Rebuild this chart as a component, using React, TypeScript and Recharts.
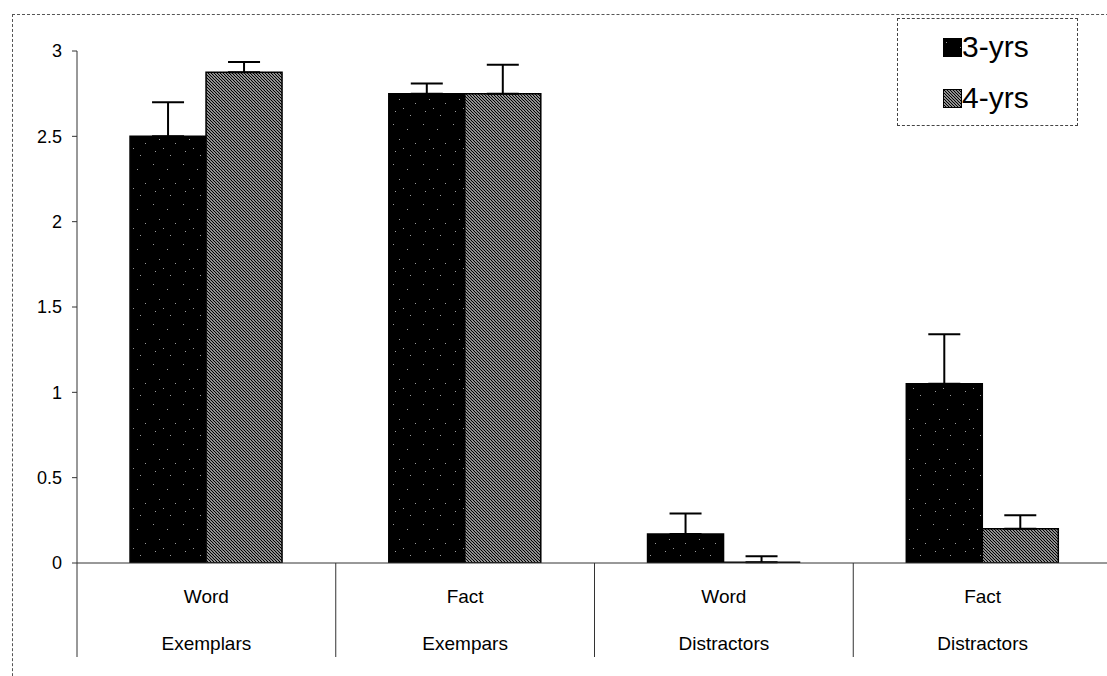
import { BarChart, Bar, XAxis, YAxis, ErrorBar, Legend } from "recharts";

const topLabels = ["Word", "Fact", "Word", "Fact"];
const bottomLabels = ["Exemplars", "Exempars", "Distractors", "Distractors"];
const threeYrs = [2.5, 2.75, 0.17, 1.05];
// word distractors for 4-yrs sits on the baseline (tiny value so the bar and its error bar still render)
const fourYrs = [2.875, 2.75, 0.005, 0.2];
const threeErr = [0.2, 0.06, 0.12, 0.29];
const fourErr = [0.06, 0.17, 0.035, 0.08];
const yTicks = [0, 0.5, 1, 1.5, 2, 2.5, 3];

const data = topLabels.map((t, i) => ({
  name: `${t} ${bottomLabels[i]}`,
  top: t,
  bottom: bottomLabels[i],
  y3: threeYrs[i],
  y4: fourYrs[i],
  e3: [0, threeErr[i]],
  e4: [0, fourErr[i]],
}));

const FONT = "'Liberation Sans', Arial, sans-serif";
const CHART_W = 1112;
const LEFT = 77;
const HALF_BAND = (CHART_W - LEFT) / 8;

// sparse light specks on the dark fill
const speckles = [
  [3, 4], [17, 9], [9, 19], [25, 23], [5, 31], [20, 35], [13, 28],
];

function CategoryTick(props: any) {
  const { x, y, payload, index } = props;
  const half = payload && payload.offset ? payload.offset : HALF_BAND;
  const d = data[index];
  return (
    <g>
      <line x1={x + half} y1={y} x2={x + half} y2={y + 94} stroke="#333" strokeWidth={1} />
      {index === 0 && (
        <line x1={x - half} y1={y} x2={x - half} y2={y + 94} stroke="#333" strokeWidth={1} />
      )}
      <text x={x} y={y + 40} textAnchor="middle" fontFamily={FONT} fontSize={19} fill="#000">
        {d ? d.top : ""}
      </text>
      <text x={x} y={y + 87} textAnchor="middle" fontFamily={FONT} fontSize={19} fill="#000">
        {d ? d.bottom : ""}
      </text>
    </g>
  );
}

function LegendBox() {
  const items = [
    { label: "3-yrs", fill: "url(#speckle)" },
    { label: "4-yrs", fill: "url(#hatch)" },
  ];
  return (
    <div
      style={{
        position: "relative",
        width: 181,
        height: 108,
        border: "1px dashed #444",
        boxSizing: "border-box",
        fontFamily: FONT,
        fontSize: 30,
        color: "#000",
      }}
    >
      {items.map((it, i) => (
        <div
          key={it.label}
          style={{ position: "absolute", left: 45, top: i === 0 ? 11 : 62, display: "flex", alignItems: "center" }}
        >
          <svg width={19} height={19} style={{ marginRight: 0 }}>
            <rect x={0.5} y={0.5} width={18} height={18} fill={it.fill} stroke="#000" />
          </svg>
          <span>{it.label}</span>
        </div>
      ))}
    </div>
  );
}

export default function App() {
  return (
    <div
      style={{
        position: "absolute",
        left: 0,
        top: 0,
        width: 1107,
        height: 676,
        overflow: "hidden",
        background: "#fff",
      }}
    >
      <div
        style={{
          position: "absolute",
          left: 12,
          top: 14,
          width: 1200,
          height: 800,
          border: "1px dashed #555",
        }}
      />
      <BarChart
        width={CHART_W}
        height={676}
        data={data}
        margin={{ top: 51, right: 0, bottom: 13, left: 0 }}
        barCategoryGap="20.5%"
        barGap={0}
      >
        <defs>
          <pattern id="speckle" width={30} height={40} patternUnits="userSpaceOnUse">
            <rect width={30} height={40} fill="#000" />
            {speckles.map(([sx, sy], k) => (
              <rect key={k} x={sx} y={sy} width={1} height={1} fill="#999" />
            ))}
          </pattern>
          <pattern id="hatch" width={3} height={3} patternUnits="userSpaceOnUse">
            <rect width={3} height={3} fill="#fff" />
            <path d="M-1,-1 L4,4 M-1,2 L1,4 M2,-1 L4,1" stroke="#000" strokeWidth={1.3} />
          </pattern>
        </defs>
        <XAxis
          dataKey="name"
          height={100}
          tickSize={0}
          tickMargin={0}
          tickLine={false}
          interval={0}
          tick={<CategoryTick />}
          axisLine={{ stroke: "#333", strokeWidth: 1 }}
        />
        <YAxis
          width={LEFT}
          domain={[0, 3]}
          ticks={yTicks}
          tickSize={5}
          tickMargin={10}
          tick={{ fontFamily: FONT, fontSize: 18, fill: "#000" }}
          tickLine={{ stroke: "#333" }}
          axisLine={{ stroke: "#333", strokeWidth: 1 }}
          allowDataOverflow
        />
        <Legend
          layout="vertical"
          align="center"
          verticalAlign="middle"
          content={<LegendBox />}
          wrapperStyle={{ position: "absolute", left: 897, top: 18, width: 181, height: 108 }}
        />
        <Bar dataKey="y3" name="3-yrs" fill="url(#speckle)" stroke="#000" strokeWidth={1.5} isAnimationActive={false}>
          <ErrorBar dataKey="e3" direction="y" width={16} stroke="#000" strokeWidth={2} />
        </Bar>
        <Bar dataKey="y4" name="4-yrs" fill="url(#hatch)" stroke="#000" strokeWidth={1.5} isAnimationActive={false}>
          <ErrorBar dataKey="e4" direction="y" width={16} stroke="#000" strokeWidth={2} />
        </Bar>
      </BarChart>
    </div>
  );
}
